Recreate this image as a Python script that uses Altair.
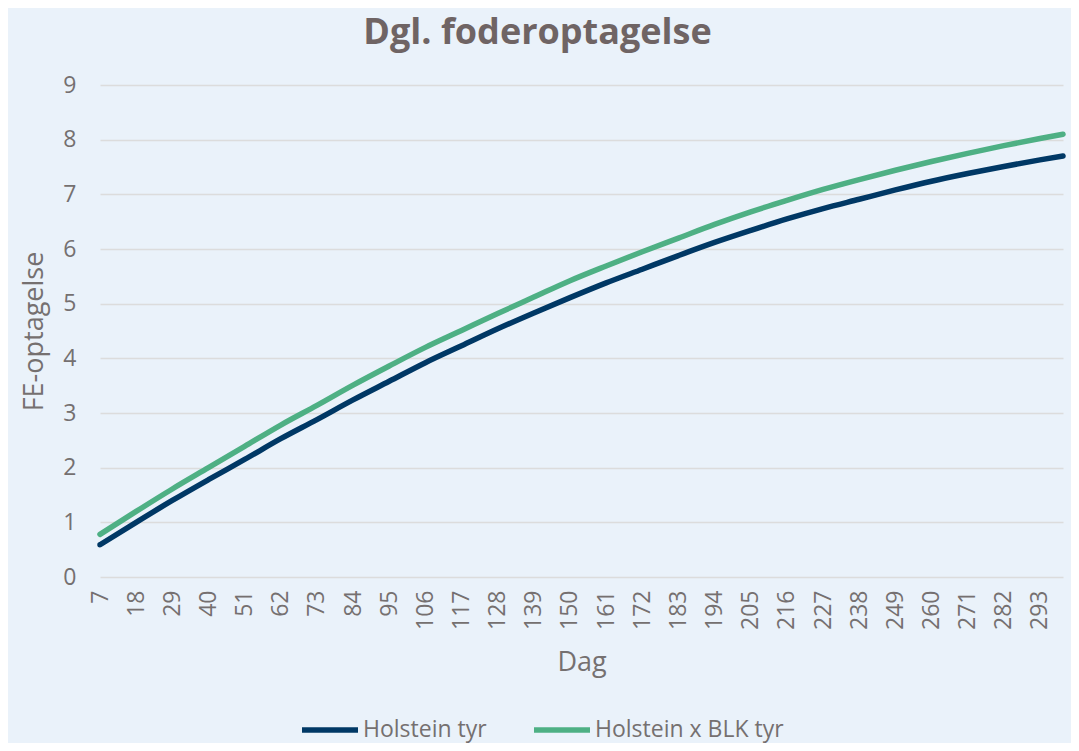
import altair as alt
import pandas as pd

days = [7, 18, 29, 40, 51, 62, 73, 84, 95, 106, 117, 128, 139, 150, 161, 172,
        183, 194, 205, 216, 227, 238, 249, 260, 271, 282, 293, 300]
holstein = [0.59, 1.00, 1.40, 1.78, 2.15, 2.53, 2.88, 3.24, 3.58, 3.92, 4.23, 4.54,
            4.83, 5.11, 5.38, 5.63, 5.88, 6.12, 6.34, 6.55, 6.74, 6.91, 7.08, 7.24,
            7.38, 7.51, 7.63, 7.70]
blk = [0.78, 1.20, 1.61, 2.00, 2.39, 2.78, 3.14, 3.51, 3.86, 4.20, 4.51, 4.82,
       5.12, 5.42, 5.69, 5.95, 6.20, 6.45, 6.68, 6.89, 7.09, 7.27, 7.44, 7.60,
       7.75, 7.89, 8.02, 8.10]
tick_days = [7, 18, 29, 40, 51, 62, 73, 84, 95, 106, 117, 128, 139, 150, 161, 172,
             183, 194, 205, 216, 227, 238, 249, 260, 271, 282, 293]
series_names = ["Holstein tyr", "Holstein x BLK tyr"]
series_colors = ["#003865", "#4EB084"]

rows = []
for d, a, b in zip(days, holstein, blk):
    rows.append({"Dag": d, "FE": a, "Serie": series_names[0]})
    rows.append({"Dag": d, "FE": b, "Serie": series_names[1]})
df = pd.DataFrame(rows)

FONT = "Open Sans"
TXT = "#757070"

chart = alt.Chart(df).mark_line(
    strokeWidth=5.5, strokeCap="round", interpolate="monotone"
).encode(
    x=alt.X("Dag:Q",
            scale=alt.Scale(domain=[7, 300], nice=False, zero=False),
            axis=alt.Axis(values=tick_days, labelAngle=-90, grid=False, ticks=False,
                          domain=False, labelPadding=13, labelFontSize=23,
                          labelColor=TXT, labelFont=FONT, title="Dag",
                          titleFontSize=27, titleColor=TXT, titleFont=FONT,
                          titleFontWeight="normal", titlePadding=20,
                          labelOverlap=False, labelBound=False, labelFlush=False)),
    y=alt.Y("FE:Q",
            scale=alt.Scale(domain=[0, 9], nice=False),
            axis=alt.Axis(values=list(range(10)), grid=True, ticks=False, domain=False,
                          gridColor="#DCDCDC", gridWidth=1.6,
                          labelPadding=24, labelFontSize=23, labelColor=TXT,
                          labelFont=FONT, title="FE-optagelse", titleFontSize=27,
                          titleColor=TXT, titleFont=FONT, titleFontWeight="normal",
                          titlePadding=14)),
    color=alt.Color("Serie:N",
                    scale=alt.Scale(domain=series_names, range=series_colors),
                    legend=alt.Legend(title=None, orient="none", direction="horizontal",
                                      legendX=199, legendY=614,
                                      symbolType="stroke", symbolSize=3136,
                                      symbolStrokeWidth=5.5, labelFontSize=23,
                                      labelColor=TXT, labelFont=FONT, labelOffset=2,
                                      columnPadding=36, labelLimit=400)),
).properties(
    width=963, height=492,
    title=alt.TitleParams("Dgl. foderoptagelse", font=FONT, fontSize=36,
                          fontWeight="bold", color="#6F6464", anchor="middle",
                          frame="group", baseline="bottom", offset=0, dx=-44, dy=14),
    autosize=alt.AutoSizeParams(type="none"),
    padding={"left": 92, "top": 77, "right": 8, "bottom": 166},
    background="#EAF2FA",
).configure_view(stroke=None, fill="#EAF2FA")

chart.save("out.html", embed_options={"renderer": "svg", "actions": False})
